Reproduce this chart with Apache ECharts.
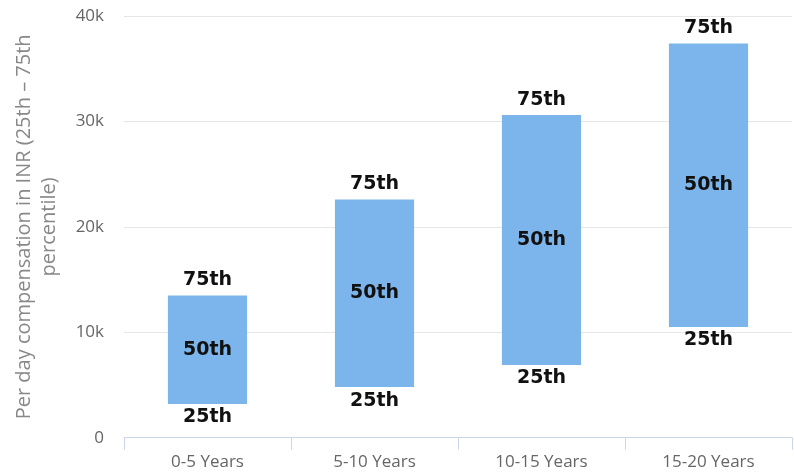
<!DOCTYPE html>
<html>
<head>
<meta charset="utf-8">
<script src="https://cdn.jsdelivr.net/npm/echarts@6/dist/echarts.min.js"></script>
<style>
  html, body { margin: 0; padding: 0; background: #ffffff; }
  #chart { width: 794px; height: 472px; }
</style>
</head>
<body>
<div id="chart"></div>
<script>
// Experience bands on the x axis
const categories = ['0-5 Years', '5-10 Years', '10-15 Years', '15-20 Years'];
// 25th percentile (bottom of each bar), INR per day
const p25 = [3200, 4800, 6900, 10500];
// 75th percentile (top of each bar), INR per day
const p75 = [13500, 22600, 30600, 37400];
// Y axis ticks
const yTicks = [0, 10000, 20000, 30000, 40000];
const yTickLabels = ['0', '10k', '20k', '30k', '40k'];
// Marker texts drawn on each bar
const markTop = '75th';
const markMid = '50th';
const markLow = '25th';

const chart = echarts.init(document.getElementById('chart'), null, { renderer: 'canvas' });

const rangeData = categories.map((c, i) => [i, p25[i], p75[i]]);

const labelFont = {
  fontFamily: 'DejaVu Sans',
  fontWeight: 'bold',
  fontSize: 19,
  fill: '#111111'
};

function renderRange(params, api) {
  const idx = api.value(0);
  const bottom = api.coord([idx, api.value(1)]);
  const top = api.coord([idx, api.value(2)]);
  const bandW = api.size([1, 0])[0];
  const w = bandW * 0.474;
  const x = top[0] - w / 2;
  const cx = top[0];
  return {
    type: 'group',
    children: [
      {
        type: 'rect',
        shape: { x: x, y: top[1], width: w, height: bottom[1] - top[1] },
        style: { fill: '#7cb5ec' }
      },
      {
        type: 'text',
        x: cx, y: top[1] - 6,
        style: Object.assign({ text: markTop, align: 'center', verticalAlign: 'bottom' }, labelFont)
      },
      {
        type: 'text',
        x: cx, y: (top[1] + bottom[1]) / 2,
        style: Object.assign({ text: markMid, align: 'center', verticalAlign: 'middle' }, labelFont)
      },
      {
        type: 'text',
        x: cx, y: bottom[1] + 4,
        style: Object.assign({ text: markLow, align: 'center', verticalAlign: 'top' }, labelFont)
      }
    ]
  };
}

chart.setOption({
  animation: false,
  backgroundColor: '#ffffff',
  grid: { left: 124, right: 2, top: 16, bottom: 34.3, containLabel: false },
  xAxis: {
    type: 'category',
    data: categories,
    boundaryGap: true,
    axisLine: { show: true, lineStyle: { color: '#ccd6eb', width: 1 } },
    axisTick: { show: true, alignWithLabel: false, length: 12, lineStyle: { color: '#ccd6eb' } },
    axisLabel: { color: '#666666', fontFamily: 'Open Sans', fontSize: 17, margin: 16 },
    splitLine: { show: false }
  },
  yAxis: {
    type: 'value',
    min: yTicks[0],
    max: yTicks[yTicks.length - 1],
    interval: yTicks[1] - yTicks[0],
    name: 'Per day compensation in INR (25th \u2013 75th\npercentile)',
    nameLocation: 'middle',
    nameGap: 62,
    nameTextStyle: { color: '#888888', fontFamily: 'Open Sans', fontSize: 20, lineHeight: 25 },
    axisLine: { show: false },
    axisTick: { show: false },
    axisLabel: {
      color: '#666666', fontFamily: 'Open Sans', fontSize: 17, margin: 20,
      formatter: function (v) {
        const k = yTicks.indexOf(v);
        return k >= 0 ? yTickLabels[k] : '';
      }
    },
    splitLine: { show: true, lineStyle: { color: '#e6e6e6', width: 1 } }
  },
  series: [
    {
      type: 'custom',
      renderItem: renderRange,
      encode: { x: 0, y: [1, 2] },
      data: rangeData,
      clip: false
    }
  ]
});
</script>
</body>
</html>
